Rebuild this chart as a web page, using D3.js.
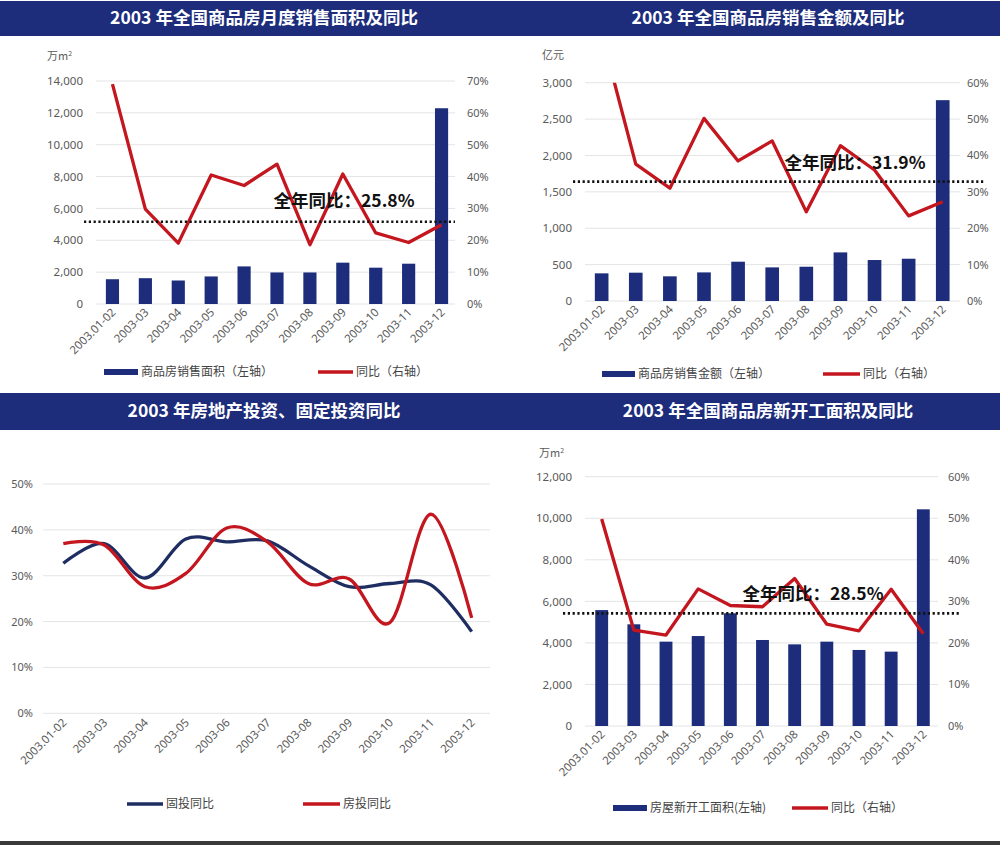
<!DOCTYPE html>
<html><head><meta charset="utf-8">
<script src="https://cdn.jsdelivr.net/npm/d3@7"></script>
<style>
body{margin:0;background:#fff;}
svg{display:block;font-family:"Noto Sans CJK SC","Noto Sans",sans-serif;}
</style></head>
<body><svg id="c" width="1000" height="845"></svg>
<script>
// ---------- data ----------
const months = ["2003.01-02","2003-03","2003-04","2003-05","2003-06","2003-07","2003-08","2003-09","2003-10","2003-11","2003-12"];

const titles = ["2003 年全国商品房月度销售面积及同比","2003 年全国商品房销售金额及同比","2003 年房地产投资、固定投资同比","2003 年全国商品房新开工面积及同比"];

// panel 1: sales area (万m²) and yoy (%)
const salesArea = [1555,1620,1475,1730,2360,1980,1980,2595,2280,2530,12290];
const salesAreaYoY = [69.0,29.8,19.1,40.5,37.2,43.9,18.6,40.8,22.3,19.3,24.9];
const salesAreaTicksL = [0,2000,4000,6000,8000,10000,12000,14000];
const salesAreaTicksR = [0,10,20,30,40,50,60,70];
const salesAreaFull = 25.8;

// panel 2: sales amount (亿元) and yoy (%)
const salesAmt = [380,389,339,393,540,462,471,668,563,581,2760];
const salesAmtYoY = [73.4,37.6,31.0,50.2,38.5,44.0,24.5,42.7,36.0,23.4,27.3];
const salesAmtTicksL = [0,500,1000,1500,2000,2500,3000];
const salesAmtTicksR = [0,10,20,30,40,50,60];
const salesAmtFullLabel = 31.9;
const salesAmtFullLine = 32.8;

// panel 3: investment yoy (%)
const fixedInvYoY = [32.7,37.0,29.5,38.0,37.4,37.6,32.2,27.6,28.3,28.0,17.8];
const reInvYoY = [37.0,36.7,27.6,30.5,40.4,37.4,28.3,29.3,19.8,43.4,20.8];
const invTicks = [0,10,20,30,40,50];

// panel 4: new starts (万m²) and yoy (%)
const newStarts = [5580,4895,4060,4330,5425,4140,3930,4060,3660,3580,10430];
const newStartsYoY = [49.8,23.1,21.9,33.0,29.0,28.7,35.5,24.5,22.9,32.9,22.2];
const newStartsTicksL = [0,2000,4000,6000,8000,10000,12000];
const newStartsTicksR = [0,10,20,30,40,50,60];
const newStartsFullLabel = 28.5;
const newStartsFullLine = 27.1;

// ---------- style ----------
const NAVY = "#1d2d7c", RED = "#c4161f", LNAVY = "#1f2e62", GRID = "#e4e4e4", TXT = "#5a5a5a";
const svg = d3.select("#c");
const fmt = d3.format(",");

// banners
[[1,36],[393,430]].forEach(([y0,y1])=>{
  svg.append("rect").attr("x",0).attr("y",y0).attr("width",1000).attr("height",y1-y0).attr("fill",NAVY);
});
svg.append("rect").attr("x",0).attr("y",841).attr("width",1000).attr("height",4).attr("fill","#3a3a3a");
[[264,18,0],[768,18,1],[264,411,2],[768,411,3]].forEach(([x,y,i])=>{
  svg.append("text").attr("x",x).attr("y",y).attr("dy","0.36em").attr("text-anchor","middle")
    .attr("fill","#fff").attr("font-size",17.5).attr("font-weight","bold").text(titles[i]);
});

let clipId = 0;
function combo(o){
  const g = svg.append("g");
  const x = d3.scaleBand().domain(months).range(o.xr).paddingInner(0.6).paddingOuter(0.3);
  const cx = d => x(d)+x.bandwidth()/2;
  const yL = o.yL ? d3.scaleLinear().domain([0,d3.max(o.ticksL)]).range(o.yr) : null;
  const yR = d3.scaleLinear().domain([0,d3.max(o.ticksR)]).range(o.yr);
  // grid
  g.append("g").selectAll("line").data(o.ticksR).join("line")
    .attr("x1",o.gx[0]).attr("x2",o.gx[1]).attr("y1",d=>yR(d)).attr("y2",d=>yR(d))
    .attr("stroke",GRID).attr("stroke-width",1);
  // left axis labels
  if (yL){
    const ax = d3.axisLeft(yL).tickValues(o.ticksL).tickSize(0).tickPadding(0).tickFormat(fmt);
    const a = g.append("g").attr("transform",`translate(${o.lx},0)`).call(ax);
    a.select(".domain").remove();
    a.selectAll("text").attr("fill",TXT).attr("font-size",11.5).attr("font-family","'Noto Sans',sans-serif");
  }
  if (o.showR !== false){
    const ax = d3.axisRight(yR).tickValues(o.ticksR).tickSize(0).tickPadding(0).tickFormat(d=>d+"%");
    const a = g.append("g").attr("transform",`translate(${o.rx},0)`).call(ax);
    a.select(".domain").remove();
    a.selectAll("text").attr("fill",TXT).attr("font-size",11).attr("font-family","'Noto Sans',sans-serif");
  }
  // x axis labels
  const xa = d3.axisBottom(x).tickSize(0).tickPadding(0);
  const xg = g.append("g").attr("transform",`translate(0,${o.yr[0]})`).call(xa);
  xg.select(".domain").remove();
  xg.selectAll("text").attr("fill",TXT).attr("font-size",11.5).attr("font-family","'Noto Sans',sans-serif")
    .attr("text-anchor","end").attr("dy",0)
    .attr("transform",`translate(4,${o.xlOff}) rotate(-45)`);
  // bars
  if (o.bars){
    g.append("g").selectAll("rect").data(o.bars).join("rect")
      .attr("x",(d,i)=>x(months[i])).attr("width",x.bandwidth())
      .attr("y",d=>yL(d)).attr("height",d=>yL(0)-yL(d)).attr("fill",NAVY);
  }
  // clip
  const id = "clip"+(clipId++);
  svg.append("clipPath").attr("id",id).append("rect")
    .attr("x",0).attr("y",o.yr[1]).attr("width",1000).attr("height",o.yr[0]-o.yr[1]+20);
  o.lines.forEach(L=>{
    const ln = d3.line().x((d,i)=>cx(months[i])).y(d=>yR(d)).curve(L.curve||d3.curveLinear);
    g.append("path").datum(L.data).attr("d",ln).attr("fill","none").attr("stroke",L.color)
      .attr("stroke-width",3.3).attr("stroke-linejoin","round").attr("clip-path",`url(#${id})`);
  });
  // reference line & label
  if (o.ref != null){
    g.append("line").attr("x1",o.refx[0]).attr("x2",o.refx[1]).attr("y1",yR(o.ref)).attr("y2",yR(o.ref))
      .attr("stroke","#111").attr("stroke-width",2.6).attr("stroke-dasharray","2.2,2.6");
    g.append("text").attr("x",o.refLabelX).attr("y",o.refLabelY).attr("text-anchor","middle")
      .attr("font-size",17.5).attr("font-weight",600).attr("fill","#111")
      .text("全年同比："+o.refLabel+"%");
  }
  // unit
  if (o.unit){
    const t = g.append("text").attr("x",o.unit[0]).attr("y",o.unit[1]).attr("font-size",11).attr("fill",TXT);
    t.append("tspan").text(o.unit[2]);
    if (o.unit[3]) t.append("tspan").attr("dy",-4).attr("font-size",7).text(o.unit[3]);
  }
  // legend
  o.legend.forEach(l=>{
    if (l.type==="bar") g.append("rect").attr("x",l.x).attr("y",o.legY-3).attr("width",l.w).attr("height",6).attr("fill",l.color);
    else g.append("line").attr("x1",l.x).attr("x2",l.x+l.w).attr("y1",o.legY).attr("y2",o.legY).attr("stroke",l.color).attr("stroke-width",3.5);
    g.append("text").attr("x",l.x+l.w+3).attr("y",o.legY).attr("dy","0.35em").attr("font-size",12).attr("fill","#444").text(l.text);
  });
}

combo({xr:[96,458], yr:[304,81], gx:[96,455], lx:83, rx:467, xlOff:9,
  yL:true, ticksL:salesAreaTicksL, ticksR:salesAreaTicksR, bars:salesArea,
  lines:[{data:salesAreaYoY,color:RED}], ref:salesAreaFull, refLabel:salesAreaFull, refx:[84,455],
  refLabelX:344, refLabelY:207, unit:[47,60,"万m","2"], legY:372,
  legend:[{type:"bar",x:104,w:34,color:NAVY,text:"商品房销售面积（左轴）"},{type:"line",x:318,w:35,color:RED,text:"同比（右轴）"}]});

combo({xr:[584.6,959.8], yr:[301,82.7], gx:[585,960], lx:572, rx:967, xlOff:9,
  yL:true, ticksL:salesAmtTicksL, ticksR:salesAmtTicksR, bars:salesAmt,
  lines:[{data:salesAmtYoY,color:RED}], ref:salesAmtFullLine, refLabel:salesAmtFullLabel, refx:[573,985],
  refLabelX:855, refLabelY:169, unit:[542,59,"亿元"], legY:374,
  legend:[{type:"bar",x:602,w:33,color:NAVY,text:"商品房销售金额（左轴）"},{type:"line",x:823,w:37,color:RED,text:"同比（右轴）"}]});

combo({xr:[42.9,492.1], yr:[713.3,484], gx:[43,490], lx:33, rx:0, xlOff:10, showR:false,
  yL:false, ticksR:invTicks,
  lines:[{data:fixedInvYoY,color:LNAVY,curve:d3.curveCatmullRom.alpha(0)},{data:reInvYoY,color:RED,curve:d3.curveCatmullRom.alpha(0)}],
  legY:804,
  legend:[{type:"line",x:127,w:36,color:LNAVY,text:"固投同比"},{type:"line",x:303,w:37,color:RED,text:"房投同比"}]});

combo({xr:[585.6,939.4], yr:[726,476.7], gx:[585,938], lx:572, rx:948, xlOff:9,
  yL:true, ticksL:newStartsTicksL, ticksR:newStartsTicksR, bars:newStarts,
  lines:[{data:newStartsYoY,color:RED}], ref:newStartsFullLine, refLabel:newStartsFullLabel, refx:[563,960],
  refLabelX:813, refLabelY:600, unit:[539,457,"万m","2"], legY:808,
  legend:[{type:"bar",x:613,w:34,color:NAVY,text:"房屋新开工面积(左轴)"},{type:"line",x:792,w:36,color:RED,text:"同比（右轴）"}]});

// panel 3 left axis labels (percent)
(function(){
  const y = d3.scaleLinear().domain([0,50]).range([713.3,484]);
  const a = svg.append("g").attr("transform","translate(33,0)")
    .call(d3.axisLeft(y).tickValues(invTicks).tickSize(0).tickPadding(0).tickFormat(d=>d+"%"));
  a.select(".domain").remove();
  a.selectAll("text").attr("fill",TXT).attr("font-size",11).attr("font-family","'Noto Sans',sans-serif");
})();
</script></body></html>
